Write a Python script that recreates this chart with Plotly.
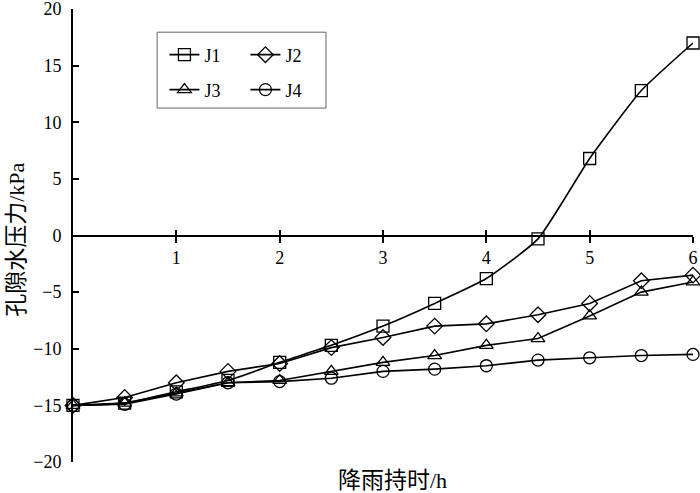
import plotly.graph_objects as go

hours = [0, 0.5, 1, 1.5, 2, 2.5, 3, 3.5, 4, 4.5, 5, 5.5, 6]
J1 = [-15, -14.8, -13.8, -12.8, -11.2, -9.7, -8.0, -6.0, -3.8, -0.3, 6.8, 12.8, 17.0]
J2 = [-15, -14.3, -13.0, -12.0, -11.3, -9.9, -9.0, -8.0, -7.8, -7.0, -6.0, -4.0, -3.5]
J3 = [-15, -14.8, -13.9, -13.0, -12.8, -12.0, -11.2, -10.6, -9.7, -9.1, -7.1, -5.0, -4.1]
J4 = [-15, -14.9, -14.0, -13.0, -12.9, -12.6, -12.0, -11.8, -11.5, -11.0, -10.8, -10.6, -10.5]
x_ticks = [1, 2, 3, 4, 5, 6]
y_ticks = [-20, -15, -10, -5, 0, 5, 10, 15, 20]

FONT = "'Liberation Serif', 'DejaVu Serif', serif"
CJK = "'Liberation Serif', 'Noto Sans CJK SC', serif"

series = [
    ("J1", J1, "square-open", "legend", "spline"),
    ("J2", J2, "diamond-open", "legend", "linear"),
    ("J3", J3, "triangle-up-open", "legend2", "linear"),
    ("J4", J4, "circle-open", "legend2", "linear"),
]

fig = go.Figure()
for name, ys, sym, leg, shape in series:
    fig.add_trace(go.Scatter(
        x=hours, y=ys, name=name, mode="lines+markers",
        line=dict(color="black", width=1.6, shape=shape, smoothing=0.5),
        marker=dict(symbol=sym, size=12, color="black", line=dict(width=1.3, color="black")),
        cliponaxis=False, legend=leg,
    ))
# dummy trace for overlay axis (upper half of crossing ticks)
fig.add_trace(go.Scatter(x=[], y=[], xaxis="x2", showlegend=False))

L, R, T, B = 72.5, 7, 8.5, 31
W, H = 700, 493
pw, ph = W - L - R, H - T - B

def px(xp):
    return (xp - L) / pw

def py(yp):
    return (H - B - yp) / ph

leg_common = dict(
    orientation="h", xanchor="left", yanchor="top",
    bgcolor="rgba(0,0,0,0)", borderwidth=0, entrywidth=36, entrywidthmode="pixels",
    font=dict(family=FONT, size=18),
)

fig.update_layout(
    width=W, height=H,
    margin=dict(l=L, r=R, t=T, b=B, autoexpand=False),
    paper_bgcolor="white", plot_bgcolor="white",
    font=dict(family=FONT, size=18, color="black"),
    showlegend=True,
    xaxis=dict(
        range=[0, 6], tickvals=x_ticks, ticktext=[str(v) for v in x_ticks],
        showgrid=False, zeroline=False, showline=True, linecolor="black", linewidth=2,
        ticks="outside", ticklen=6, tickwidth=2, tickcolor="black",
        anchor="free", position=0.5, ticklabeloverflow="allow", automargin=False,
        tickfont=dict(family=FONT, size=18),
    ),
    xaxis2=dict(
        range=[0, 6], tickvals=x_ticks, overlaying="x", anchor="free", position=0.5,
        showgrid=False, zeroline=False, showline=False, showticklabels=False,
        ticks="inside", ticklen=6, tickwidth=2, tickcolor="black", automargin=False,
    ),
    yaxis=dict(
        range=[-20, 20], tickvals=y_ticks, showgrid=False, zeroline=False,
        showline=True, linecolor="black", linewidth=2,
        ticks="inside", ticklen=6, tickwidth=2, tickcolor="black",
        ticklabelstandoff=6, ticklabeloverflow="allow", automargin=False,
        tickfont=dict(family=FONT, size=18),
    ),
    legend=dict(x=px(164), y=py(36), **leg_common),
    legend2=dict(x=px(164), y=py(71), **leg_common),
    shapes=[dict(
        type="rect", xref="paper", yref="paper",
        x0=px(156.7), x1=px(325.7), y0=py(107.7), y1=py(31.7),
        line=dict(color="#666666", width=1), fillcolor="rgba(0,0,0,0)",
    )],
    annotations=[
        dict(text="<span style='font-size:23px'>孔隙水压力</span>/kPa",
             xref="paper", yref="paper", x=px(16), y=py(240),
             textangle=-90, showarrow=False, xanchor="center", yanchor="middle",
             font=dict(family=CJK, size=22)),
        dict(text="<span style='font-size:23px'>降雨持时</span>/h",
             xref="paper", yref="paper", x=px(392), y=py(481),
             showarrow=False, xanchor="center", yanchor="middle",
             font=dict(family=CJK, size=22)),
    ],
)

fig.write_html("out.html", config={"displayModeBar": False},
               post_script="document.body.style.margin='0';")
